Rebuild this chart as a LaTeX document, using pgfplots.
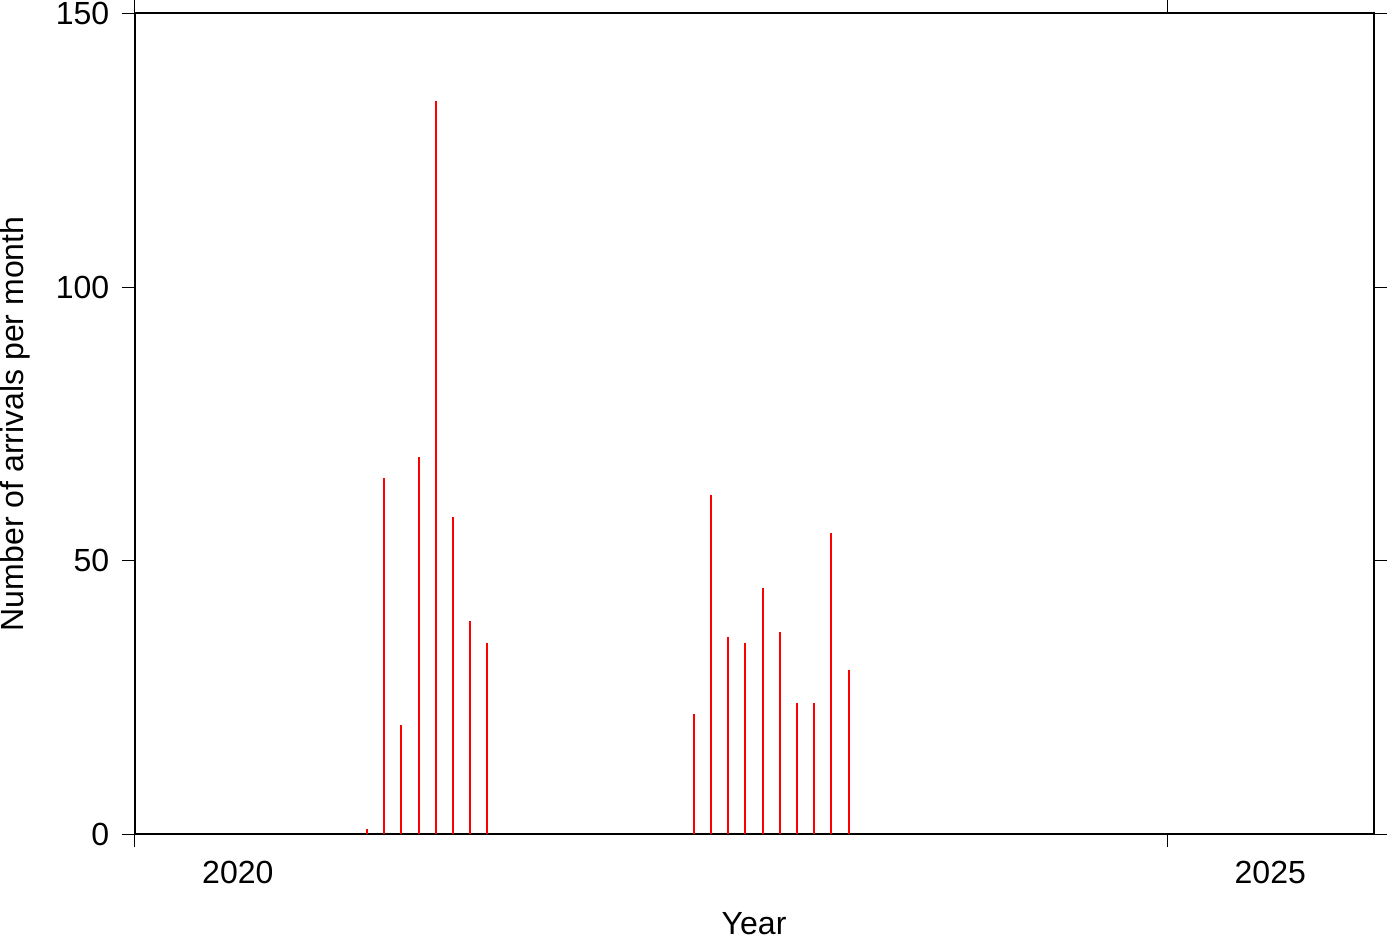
\documentclass[border=0pt]{standalone}
\usepackage{fontspec}
\setmainfont{Liberation Sans}
\usepackage{pgfplots}
\pgfplotsset{compat=1.18}
\begin{document}
\begin{tikzpicture}
\begin{axis}[
  scale only axis, width=619pt, height=410pt,
  xmin=2020, xmax=2026, ymin=0, ymax=150,
  xtick={2020,2025}, xticklabels={},
  extra x ticks={2020.5,2025.5}, extra x tick labels={2020,2025},
  extra x tick style={major tick length=0pt},
  ytick={0,50,100,150},
  minor tick num=0,
  tick align=outside, major tick length=6.5pt,
  axis line style={line width=1pt},
  every tick/.style={black, line width=0.5pt},
  /pgf/number format/assume math mode=true,
  font=\fontsize{16}{19}\selectfont,
  ticklabel style={font=\fontsize{16}{19}\selectfont, inner sep=0pt},
  xticklabel style={anchor=north, yshift=-13.5pt},
  yticklabel style={anchor=east, xshift=-6pt},
  xlabel style={at={(axis description cs:0.5,0)}, anchor=north, yshift=-35pt, inner sep=0pt, inner ysep=4pt},
  ylabel style={at={(axis description cs:-0.109,0.5)}, anchor=north, inner sep=0pt},
  xlabel={Year}, ylabel={Number of arrivals per month},
]
\addplot[ycomb, red, line width=1pt, mark=none] coordinates {
(2021.125,1) (2021.2083,65) (2021.2917,20) (2021.375,69) (2021.4583,134)
(2021.5417,58) (2021.625,39) (2021.7083,35)
(2022.7083,22) (2022.7917,62) (2022.875,36) (2022.9583,35) (2023.0417,45)
(2023.125,37) (2023.2083,24) (2023.2917,24) (2023.375,55) (2023.4583,30)
};
\end{axis}
\end{tikzpicture}
\end{document}
